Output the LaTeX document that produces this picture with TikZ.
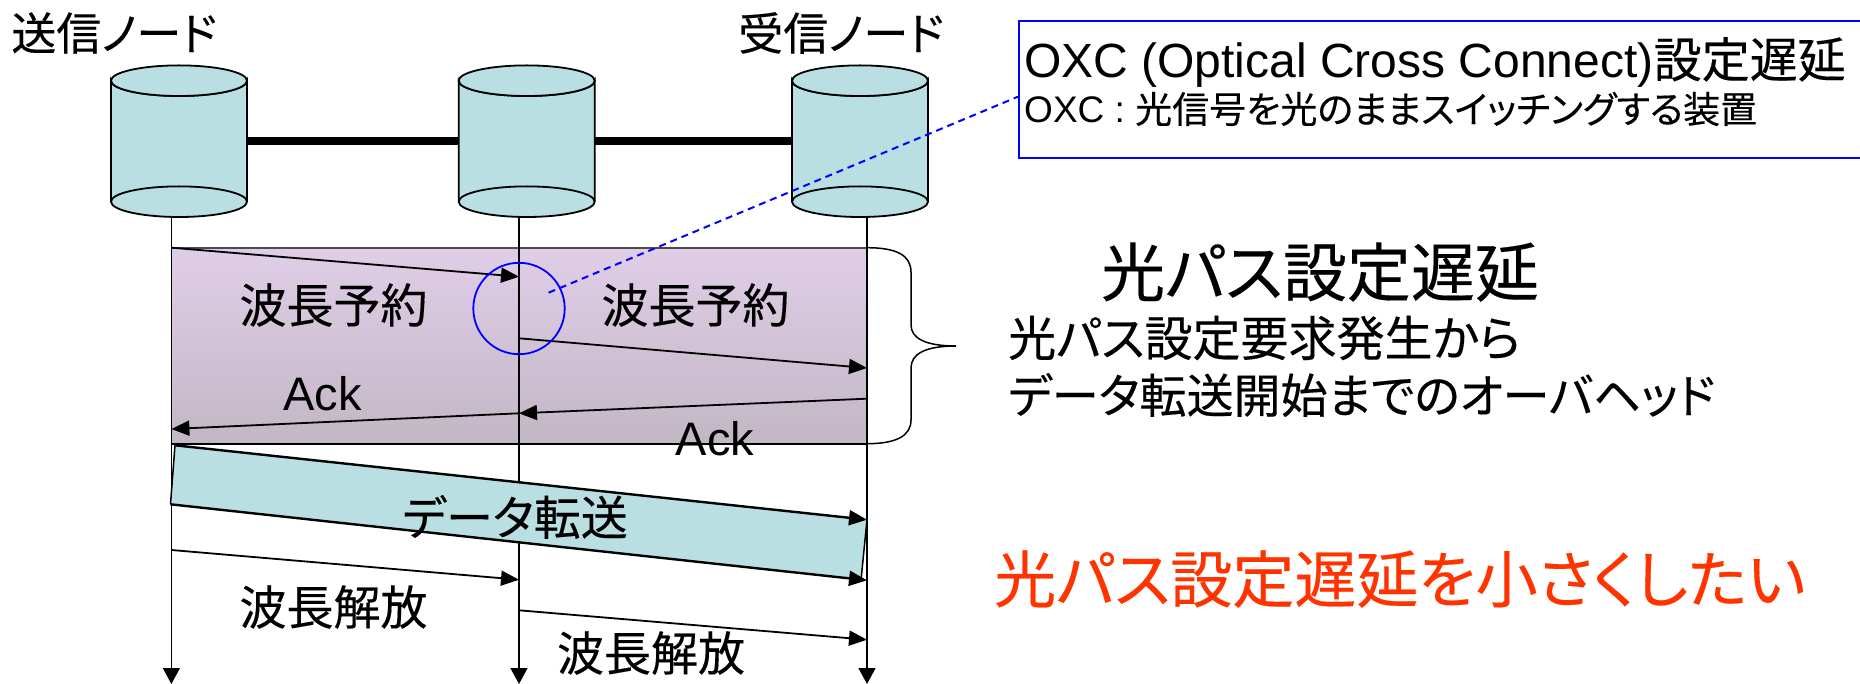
\documentclass[tikz,border=0pt]{standalone}
\usepackage{fontspec}
\setmainfont{Liberation Sans}
\newfontfamily\jp[RawFeature=+palt,FakeBold=0.3]{Noto Sans CJK JP}
\usetikzlibrary{arrows.meta,shapes.geometric}
\definecolor{cyl}{HTML}{B9DFE2}
\definecolor{ptop}{HTML}{E0CEE8}
\definecolor{pbot}{HTML}{C2B7C4}
\definecolor{redt}{HTML}{FF3300}
\newcommand{\fs}[1]{\fontsize{#1pt}{#1pt}\selectfont}
\tikzset{
  x=1pt,y=-1pt,
  flow/.style={draw=black,line width=1.8pt,-{Triangle[length=18pt,width=15pt]}},
  life/.style={draw=black,line width=1.5pt,-{Triangle[length=16pt,width=17pt]}},
  cylbody/.style={fill=cyl,draw=black,line width=1.8pt},
  txt/.style={inner sep=0pt,text=black},
}
\newcommand{\cylinder}[2]{%
  \path[cylbody] (#1-68,80.7) -- (#1-68,201.7) arc[x radius=68,y radius=15.3,start angle=180,end angle=0] -- (#1+68,80.7) arc[x radius=68,y radius=15.3,start angle=0,end angle=180] -- cycle;
  \path[cylbody] (#1,80.7) ellipse[x radius=68,y radius=15.3];
  \draw[black,line width=1.8pt] (#1-68,201.7) arc[x radius=68,y radius=15.3,start angle=180,end angle=360];
  \coordinate (#2) at (#1,217);
  \coordinate (#2L) at (#1-68,141.3);
  \coordinate (#2R) at (#1+68,141.3);
}
\begin{document}
\begin{tikzpicture}
\useasboundingbox (0,0) rectangle (1860,684);
\coordinate (tA) at (171.4,217); \coordinate (tB) at (519,217); \coordinate (tC) at (867,217);
\coordinate (eA) at (171.4,684); \coordinate (eB) at (519,684); \coordinate (eC) at (867,684);
% purple
\shade[top color=ptop,bottom color=pbot] (171.4,247.7) rectangle (867,443.7);
\draw[black,line width=1.8pt] (867,443.7) -- (171.4,443.7);
\draw[black!70,line width=1.8pt] (171.4,247.7) -- (867,247.7);
% lifelines
\draw[life] (tA) -- (eA);
\draw[life] (tB) -- (eB);
\draw[life] (tC) -- (eC);
% data
\path[fill=cyl] (175,445.3) -- (867,519.7) -- (861,580.3) -- (170.5,504.3) -- cycle;
\draw[black,line width=1.5pt] (175,445.3) -- (170.5,504.3);
\draw[black,line width=1.5pt] (867,519.7) -- (861,580.3);
\cylinder{179}{n1}
\cylinder{526.7}{n2}
\cylinder{860}{n3}
\draw[black,line width=8pt] (n1R) -- (n2L);
\draw[black,line width=8pt] (n2R) -- (n3L);
% brace
\coordinate (br1) at (867,247.7); \coordinate (br2) at (867,443.7); \coordinate (brt) at (956,346);
\draw[black,line width=1.5pt] (br1) .. controls (896,247.7) and (911,255) .. (911,272) -- (911,325)
  .. controls (911,338) and (925,346) .. (brt)
  .. controls (925,346) and (911,354) .. (911,368) -- (911,420)
  .. controls (911,436) and (896,443.7) .. (br2);
% arrows
\draw[flow] (171.4,247.7) -- (519,276.7);
\draw[flow] (519,338.3) -- (867,368);
\draw[flow] (867,398.7) -- (519,413.3);
\draw[flow] (519,413.3) -- (171.4,429);
\draw[flow,line width=2.4pt] (175,445.3) -- (867,519.7);
\draw[flow,line width=2.4pt] (170.5,504.3) -- (867,580.3);
\draw[flow] (171.4,550) -- (519,579.7);
\draw[flow] (519,610.3) -- (867,639.7);
% callout
\node[circle,draw=blue,line width=1.8pt,minimum size=91.4pt,inner sep=0pt] (ring) at (519,308.5) {};
\coordinate (ds) at (548.6,292.7);
\node[draw=blue,line width=2pt,fill=white,minimum width=900pt,minimum height=136.7pt,anchor=north west,inner sep=0pt] (box) at (1018,20) {};
\draw[blue,line width=2pt,dash pattern=on 7pt off 5pt] (ds) -- (box.west |- 0,96.7);
% text
\node[txt] (t1) at (114,33) {\jp\fs{45}送信ノード};
\node[txt] (t2) at (841,33) {\jp\fs{45}受信ノード};
\node[txt] (t3) at (333.5,305) {\jp\fs{47}波長予約};
\node[txt] (t4) at (695.5,305) {\jp\fs{47}波長予約};
\node[txt,anchor=base] (t5) at (322.7,410) {\fs{47}Ack};
\node[txt,anchor=base] (t6) at (715,455) {\fs{47}Ack};
\node[txt] (t7) at (515,517) {\jp\fs{47}データ転送};
\node[txt] (t8) at (333.5,607) {\jp\fs{47}波長解放};
\node[txt] (t9) at (651,653) {\jp\fs{47}波長解放};
\node[txt,anchor=base west] (t10) at (1024,77.5) {\fs{48}OXC (Optical Cross Connect)\jp 設定遅延};
\node[txt,anchor=base west] (t11) at (1024,123) {\fs{37}OXC : \jp 光信号を光のままスイッチングする装置};
\node[txt] (t12) at (1320,272) {\jp\fs{64}光パス設定遅延};
\node[txt,anchor=west] (t13) at (1008,338) {\jp\fs{48}光パス設定要求発生から};
\node[txt,anchor=west] (t14) at (1008,395) {\jp\fs{47}データ転送開始までのオーバヘッド};
\node[txt,text=redt,anchor=west] (t15) at (994,579) {\jp\fs{62}光パス設定遅延を小さくしたい};
\end{tikzpicture}
\end{document}
